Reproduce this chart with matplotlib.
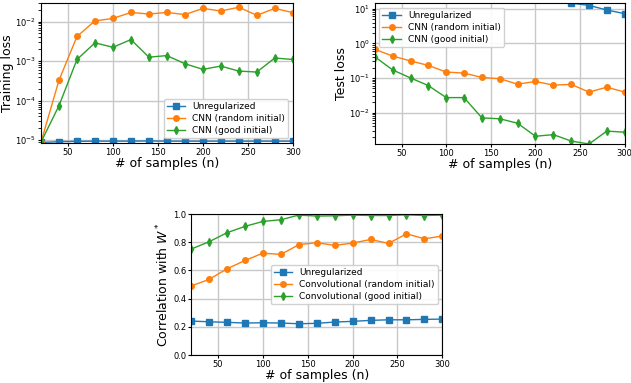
import numpy as np
import matplotlib
matplotlib.use("Agg")
import matplotlib.pyplot as plt

n = [20, 40, 60, 80, 100, 120, 140, 160, 180, 200, 220, 240, 260, 280, 300]

# training loss
train_unreg = [8.8e-6, 9.2e-6, 9.4e-6, 9.5e-6, 9.5e-6, 9.5e-6, 9.6e-6, 9.5e-6,
               9.5e-6, 9.5e-6, 9.5e-6, 9.5e-6, 9.5e-6, 9.5e-6, 9.5e-6]
train_rand = [9.0e-6, 3.3e-4, 4.2e-3, 1.04e-2, 1.2e-2, 1.7e-2, 1.55e-2, 1.7e-2,
              1.5e-2, 2.15e-2, 1.85e-2, 2.3e-2, 1.44e-2, 2.15e-2, 1.68e-2]
train_good = [9.0e-6, 7.5e-5, 1.1e-3, 2.9e-3, 2.24e-3, 3.5e-3, 1.26e-3, 1.38e-3,
              8.6e-4, 6.2e-4, 7.5e-4, 5.6e-4, 5.3e-4, 1.2e-3, 1.1e-3]

# test loss
test_unreg = [120, 100, 85, 70, 60, 50, 42, 36, 30, 25, 19, 14.5, 12.5, 9.2, 7.2]
test_rand = [0.67, 0.43, 0.31, 0.23, 0.148, 0.138, 0.103, 0.095,
             0.066, 0.079, 0.062, 0.065, 0.039, 0.054, 0.039]
test_good = [0.41, 0.17, 0.10, 0.060, 0.027, 0.027, 7.0e-3, 6.6e-3,
             4.9e-3, 2.06e-3, 2.3e-3, 1.5e-3, 1.23e-3, 2.9e-3, 2.7e-3]

# correlation with W*
corr_unreg = [0.241, 0.236, 0.232, 0.227, 0.229, 0.227, 0.222, 0.225,
              0.234, 0.239, 0.246, 0.250, 0.250, 0.253, 0.255]
corr_rand = [0.49, 0.537, 0.612, 0.671, 0.723, 0.714, 0.783, 0.797,
             0.778, 0.794, 0.82, 0.792, 0.86, 0.825, 0.844]
corr_good = [0.752, 0.804, 0.868, 0.913, 0.948, 0.96, 0.993, 0.986,
             0.988, 0.993, 0.99, 0.99, 0.995, 0.99, 0.993]

c_blue, c_orange, c_green = "#1f77b4", "#ff7f0e", "#2ca02c"

fig = plt.figure(figsize=(6.31, 3.83), dpi=100)

def style(ax):
    ax.grid(True, color="#c8c8c8", linewidth=1.0)
    ax.set_axisbelow(True)
    ax.tick_params(labelsize=6, length=2, pad=1.5)
    ax.set_xlim(20, 300)
    ax.set_xticks([50, 100, 150, 200, 250, 300])
    ax.set_xlabel("# of samples (n)", fontsize=9, labelpad=0)

def draw(ax, ys, labels):
    ax.plot(n, ys[0], color=c_blue, marker="s", markersize=4, linewidth=1.0, label=labels[0])
    ax.plot(n, ys[1], color=c_orange, marker="o", markersize=4, linewidth=1.0, label=labels[1])
    ax.plot(n, ys[2], color=c_green, marker="d", markersize=4, linewidth=1.0, label=labels[2])

def legend(ax, **kw):
    ax.legend(fontsize=6.5, framealpha=0.9, borderpad=0.35, labelspacing=0.35,
              handlelength=2.0, handletextpad=0.8, **kw)

cnn_labels = ["Unregularized", "CNN (random initial)", "CNN (good initial)"]

ax1 = fig.add_axes([0.065, 0.627, 0.399, 0.366])
draw(ax1, [train_unreg, train_rand, train_good], cnn_labels)
ax1.set_yscale("log")
ax1.set_ylim(8.6e-6, 3.0e-2)
ax1.set_ylabel("Training loss", fontsize=9, labelpad=1)
style(ax1)
legend(ax1, loc="lower right")

ax2 = fig.add_axes([0.594, 0.624, 0.396, 0.368])
draw(ax2, [test_unreg, test_rand, test_good], cnn_labels)
ax2.set_yscale("log")
ax2.set_ylim(1.23e-3, 14.6)
ax2.set_ylabel("Test loss", fontsize=9, labelpad=1)
style(ax2)
legend(ax2, loc="upper left")

ax3 = fig.add_axes([0.303, 0.073, 0.398, 0.368])
draw(ax3, [corr_unreg, corr_rand, corr_good],
     ["Unregularized", "Convolutional (random initial)", "Convolutional (good initial)"])
ax3.set_ylim(0, 1)
ax3.set_ylabel("Correlation with $W^*$", fontsize=9, labelpad=1)
style(ax3)
legend(ax3, loc="center right", bbox_to_anchor=(1.0, 0.5))

fig.savefig("out.png", dpi=100)
